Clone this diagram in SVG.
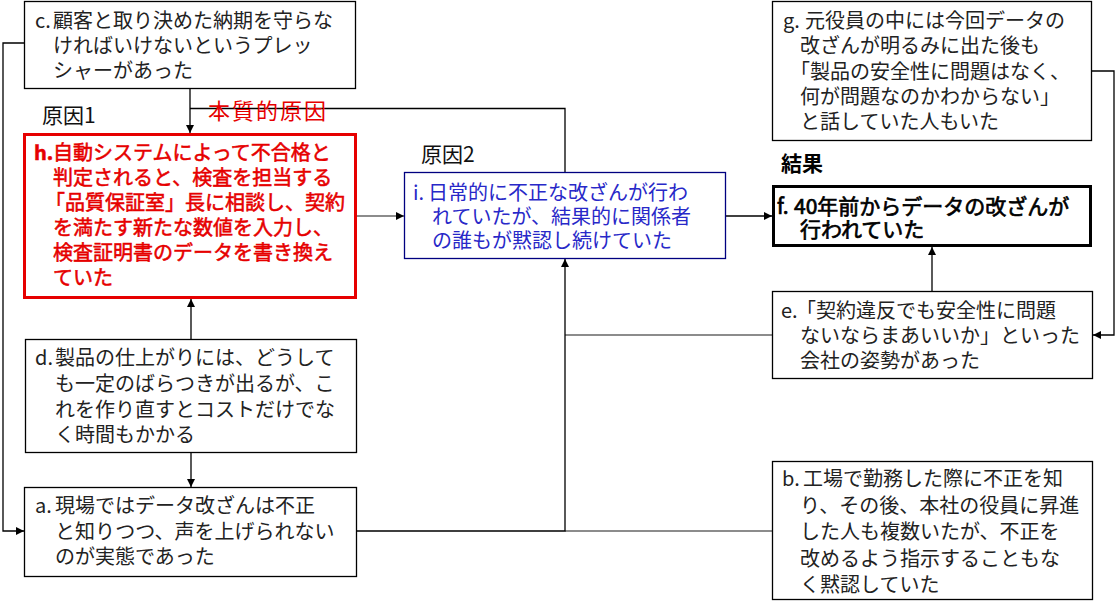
<svg xmlns="http://www.w3.org/2000/svg" width="1117" height="607" viewBox="0 0 1117 607">
<defs>
<marker id="arr" viewBox="0 0 10 10" refX="10" refY="5" markerWidth="9" markerHeight="8" markerUnits="userSpaceOnUse" orient="auto">
<path d="M0,0 L10,5 L0,10 z" fill="#000"/>
</marker>
<style>
text{font-family:"Noto Sans CJK JP","Noto Sans",sans-serif;font-size:20px;fill:#222}
.box{fill:#fff;stroke:#000;stroke-width:1.3}
.red{fill:#fff;stroke:#e60000;stroke-width:3}
.blue{fill:#fff;stroke:#000080;stroke-width:1.3}
.thick{fill:#fff;stroke:#000;stroke-width:3}
.rt{fill:#e60000;stroke:#e60000;stroke-width:0.55}
.bt{fill:#2828c8}
.ft{fill:#000;stroke:#000;stroke-width:0.7;font-size:21px}
.lab{font-size:21px;fill:#111}
.con{fill:none;stroke:#000;stroke-width:1.3}
.gray{fill:none;stroke:#666;stroke-width:1.5}
</style>
</defs>
<g id="connectors">
<path class="con" d="M565,172 V108.5 H190"/>
<path class="con" d="M190,88 V133" marker-end="url(#arr)"/>
<path class="con" d="M24,43 H3 V531 H24" marker-end="url(#arr)"/>
<path class="con" d="M191,339 V299" marker-end="url(#arr)"/>
<path class="con" d="M191,452 V487" marker-end="url(#arr)"/>
<path class="gray" d="M356,216 H404" marker-end="url(#arr)"/>
<path class="con" d="M726,216 H772" marker-end="url(#arr)"/>
<path class="gray" d="M772,531 H565"/>
<path class="gray" d="M772,335 H565"/>
<path class="con" d="M356,531 H565 V259" marker-end="url(#arr)"/>
<path class="con" d="M932,291 V247" marker-end="url(#arr)"/>
<path class="con" d="M1092,71 H1114 V335 H1093" marker-end="url(#arr)"/>
</g>
<text x="208" y="119" style="font-size:22px;fill:#e60000;letter-spacing:2px">本質的原因</text>
<text class="lab" x="42" y="123">原因1</text>
<text class="lab" x="421" y="162">原因2</text>
<text x="781" y="171" style="font-size:21px;font-weight:bold;fill:#000">結果</text>
<g id="node-c">
<rect class="box" x="24.5" y="1.5" width="331" height="87"/>
<text><tspan x="35" y="28">c.</tspan><tspan x="53" y="28">顧客と取り決めた納期を守らな</tspan><tspan x="53" y="53">ければいけないというプレッ</tspan><tspan x="53" y="78">シャーがあった</tspan></text>
</g>
<g id="node-h">
<rect class="red" x="24.5" y="134.5" width="331" height="163"/>
<text class="rt"><tspan x="34" y="160" style="font-weight:bold">h.</tspan><tspan x="53" y="160">自動システムによって不合格と</tspan><tspan x="53" y="185">判定されると、検査を担当する</tspan><tspan x="45" y="210">「品質保証室」長に相談し、契約</tspan><tspan x="53" y="235">を満たす新たな数値を入力し、</tspan><tspan x="53" y="260">検査証明書のデータを書き換え</tspan><tspan x="53" y="285">ていた</tspan></text>
</g>
<g id="node-i">
<rect class="blue" x="404.5" y="172.5" width="321" height="86"/>
<text class="bt"><tspan x="413" y="200">i.</tspan><tspan x="428" y="200">日常的に不正な改ざんが行わ</tspan><tspan x="432" y="224">れていたが、結果的に関係者</tspan><tspan x="432" y="248">の誰もが黙認し続けていた</tspan></text>
</g>
<g id="node-g">
<rect class="box" x="772.5" y="1.5" width="319" height="139"/>
<text><tspan x="783" y="28">g.</tspan><tspan x="805" y="28">元役員の中には今回データの</tspan><tspan x="800" y="53">改ざんが明るみに出た後も</tspan><tspan x="790" y="79">「製品の安全性に問題はなく、</tspan><tspan x="800" y="104">何が問題なのかわからない」</tspan><tspan x="800" y="129">と話していた人もいた</tspan></text>
</g>
<g id="node-f">
<rect class="thick" x="773.5" y="186.5" width="317" height="59"/>
<text class="ft"><tspan x="777" y="214">f.</tspan><tspan x="794" y="214">40年前からデータの改ざんが</tspan><tspan x="800" y="237">行われていた</tspan></text>
</g>
<g id="node-e">
<rect class="box" x="772.5" y="291.5" width="320" height="87"/>
<text><tspan x="781" y="318">e.</tspan><tspan x="796" y="318">「契約違反でも安全性に問題</tspan><tspan x="800" y="343">ないならまあいいか」といった</tspan><tspan x="800" y="368">会社の姿勢があった</tspan></text>
</g>
<g id="node-b">
<rect class="box" x="772.5" y="461.5" width="320" height="138"/>
<text><tspan x="782" y="486">b.</tspan><tspan x="803" y="486">工場で勤務した際に不正を知</tspan><tspan x="800" y="512.5">り、その後、本社の役員に昇進</tspan><tspan x="800" y="539">した人も複数いたが、不正を</tspan><tspan x="800" y="565.5">改めるよう指示することもな</tspan><tspan x="800" y="592">く黙認していた</tspan></text>
</g>
<g id="node-d">
<rect class="box" x="25.5" y="339.5" width="331" height="113"/>
<text><tspan x="35" y="365">d.</tspan><tspan x="55" y="365">製品の仕上がりには、どうして</tspan><tspan x="55" y="391">も一定のばらつきが出るが、こ</tspan><tspan x="55" y="417">れを作り直すとコストだけでな</tspan><tspan x="55" y="442">く時間もかかる</tspan></text>
</g>
<g id="node-a">
<rect class="box" x="24.5" y="487.5" width="332" height="89"/>
<text><tspan x="35" y="513">a.</tspan><tspan x="55" y="513">現場ではデータ改ざんは不正</tspan><tspan x="55" y="539">と知りつつ、声を上げられない</tspan><tspan x="55" y="564">のが実態であった</tspan></text>
</g>
</svg>
